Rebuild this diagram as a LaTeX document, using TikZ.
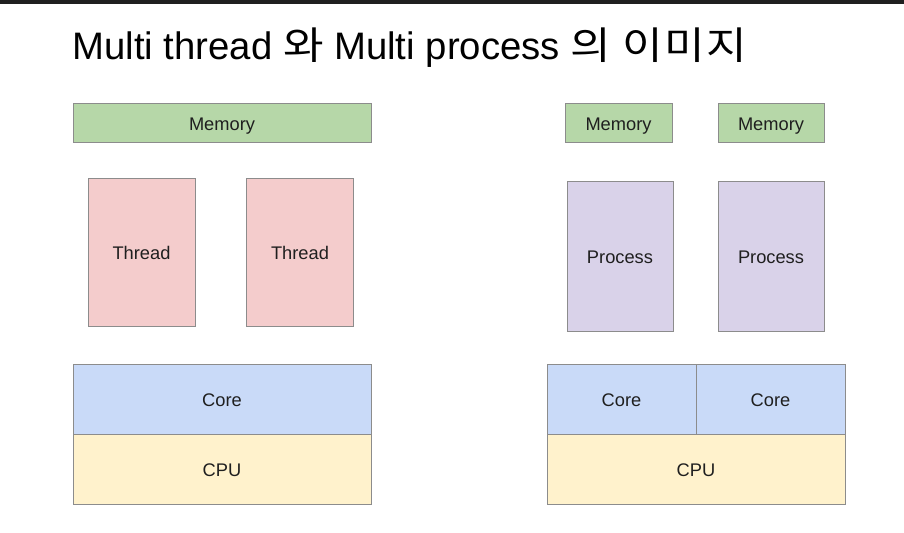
\documentclass[tikz,border=0pt]{standalone}
\usepackage{fontspec}
\setmainfont{Liberation Sans}
\newfontfamily\krfont[FakeStretch=1.15, LetterSpace=4]{Noto Sans CJK KR}
\usetikzlibrary{positioning}
\definecolor{memgreen}{HTML}{B6D7A8}
\definecolor{thrpink}{HTML}{F4CCCC}
\definecolor{procpurple}{HTML}{D9D2E9}
\definecolor{coreblue}{HTML}{C9DAF8}
\definecolor{cpuyellow}{HTML}{FFF2CC}
\definecolor{edgegrey}{HTML}{8C8C8C}
\definecolor{inkgrey}{HTML}{1F1F1F}
\tikzset{%
	block/.style    = {draw=edgegrey, line width=0.5pt, rectangle, inner sep=0pt, outer sep=0pt, text=inkgrey, font=\fontsize{10.4}{12}\selectfont, text height=0.88em, text depth=0pt},
	memory/.style   = {block, fill=memgreen, minimum height=0.78cm}, % Memory
	thread/.style   = {block, fill=thrpink, minimum width=2.14cm, minimum height=2.96cm}, % Thread
	process/.style  = {block, fill=procpurple, minimum width=2.12cm, minimum height=3cm}, % Process
	core/.style     = {block, fill=coreblue, minimum height=1.4cm}, % Core
	cpu/.style      = {block, fill=cpuyellow, minimum width=5.96cm, minimum height=1.4cm}, % CPU
}
\begin{document}
\begin{tikzpicture}[x=0.02cm, y=-0.02cm]
		\useasboundingbox[fill=white] (0,0) rectangle (904,533);
		\fill[inkgrey] (0,0) rectangle (904,4);
		\node[anchor=base west, inner sep=0pt, text=black, font=\fontsize{21.8}{26}\selectfont] (title) at (72,59.5) {Multi thread {\krfont 와} Multi process {\krfont 의 이미지}};
		% multi thread
		\node[memory, minimum width=5.96cm] (memL) at (222,122.5) {Memory};
		\node[thread] (thrA) at (141.5,252) {Thread};
		\node[thread] (thrB) at (300,252) {Thread};
		\node[core, minimum width=5.96cm] (coreL) at (222,399) {Core};
		\node[cpu, below=0pt of coreL] (cpuL) {CPU};
		% multi process
		\node[memory, minimum width=2.14cm] (memA) at (618.5,122.5) {Memory};
		\node[memory, minimum width=2.12cm] (memB) at (771,122.5) {Memory};
		\node[process] (procA) at (620,256) {Process};
		\node[process] (procB) at (771,256) {Process};
		\node[core, minimum width=2.98cm] (coreA) at (621.5,399) {Core};
		\node[core, minimum width=2.98cm, right=0pt of coreA] (coreB) {Core};
		\node[cpu, below=0pt of coreA.south east] (cpuR) {CPU};
		\end{tikzpicture}
\end{document}
